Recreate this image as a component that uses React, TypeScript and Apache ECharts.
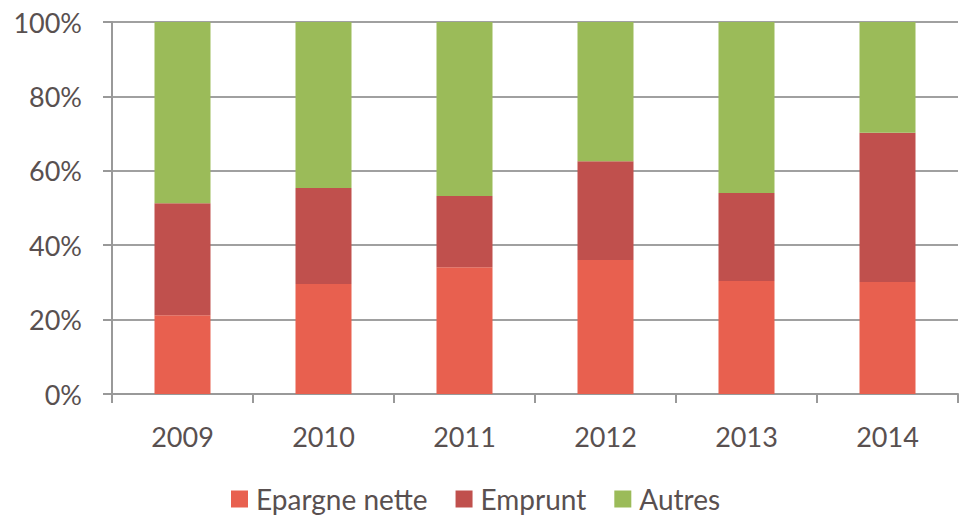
import React, { useEffect, useRef } from "react";
import * as echarts from "echarts";

const years = ["2009", "2010", "2011", "2012", "2013", "2014"];
const epargneNette = [21.2, 29.6, 34.1, 36.0, 30.4, 30.1];
const emprunt = [30.1, 25.8, 19.1, 26.6, 23.6, 40.1];
const autres = [48.7, 44.6, 46.8, 37.4, 46.0, 29.8];

const textColor = "#595050";
const fontFamily = "Lato, 'Open Sans', sans-serif";

export default function App() {
  const ref = useRef<HTMLDivElement>(null);
  useEffect(() => {
    if (!ref.current) return;
    const chart = echarts.init(ref.current, null, { renderer: "svg" });
    const mk = (name: string, data: number[], color: string) => ({
      name,
      type: "bar",
      stack: "total",
      data,
      barWidth: 56,
      itemStyle: { color },
    });
    chart.setOption({
      animation: false,
      textStyle: { fontFamily },
      grid: { left: 112, right: 13, top: 22, bottom: 125 },
      legend: {
        top: 480,
        left: 226,
        itemWidth: 17,
        itemHeight: 17,
        itemGap: 28,
        icon: "rect",
        textStyle: {
          fontSize: 28,
          color: textColor,
          fontFamily,
          padding: [0, 0, 0, 3],
        },
        data: ["Epargne nette", "Emprunt", "Autres"],
      },
      xAxis: {
        type: "category",
        data: years,
        axisLine: { lineStyle: { color: "#999999", width: 2 } },
        axisTick: { show: true, length: 9, lineStyle: { color: "#999999", width: 2 } },
        axisLabel: { fontSize: 27, color: textColor, margin: 29, fontFamily },
      },
      yAxis: {
        type: "value",
        min: 0,
        max: 100,
        interval: 20,
        axisLine: { show: true, lineStyle: { color: "#999999", width: 2 } },
        axisTick: { show: true, length: 9, lineStyle: { color: "#999999", width: 2 } },
        splitLine: { show: true, lineStyle: { color: "#a0a0a0", width: 2 } },
        axisLabel: {
          fontSize: 27,
          color: textColor,
          margin: 30,
          fontFamily,
          formatter: (v: number) => `${v}%`,
        },
      },
      series: [
        mk("Epargne nette", epargneNette, "#E8604F"),
        mk("Emprunt", emprunt, "#C0504D"),
        mk("Autres", autres, "#9BBB59"),
      ],
    });
    return () => chart.dispose();
  }, []);
  return (
    <div
      ref={ref}
      style={{ position: "absolute", left: 0, top: 0, width: 971, height: 519 }}
    />
  );
}
